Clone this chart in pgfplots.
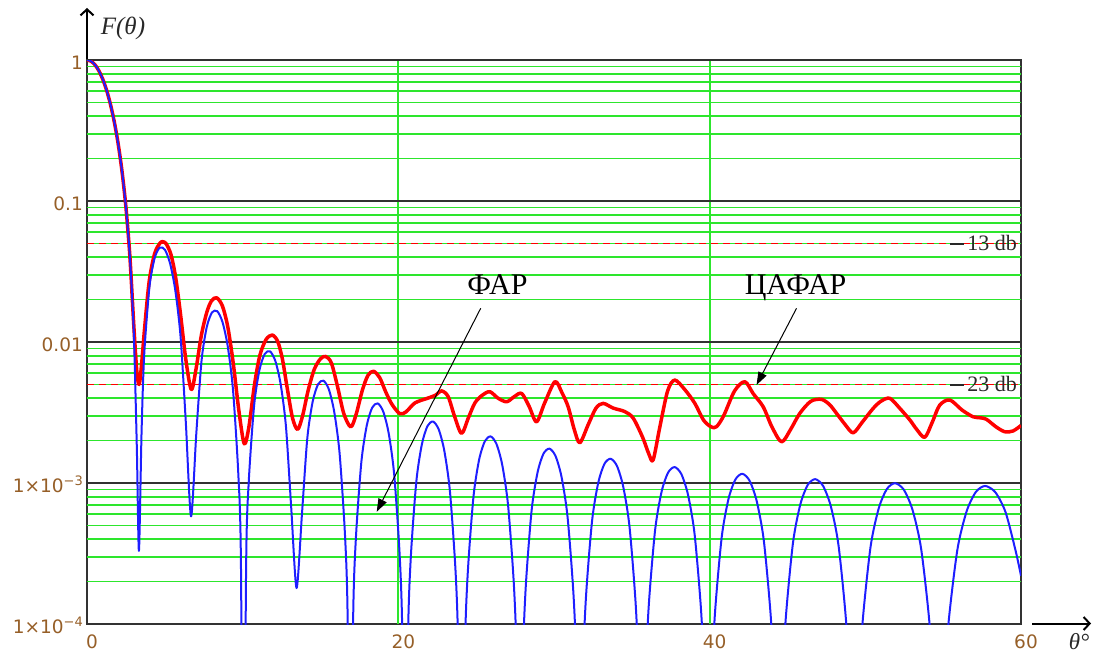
\documentclass[border=0pt]{standalone}
\usepackage{pgfplots}
\pgfplotsset{compat=1.18}
\usepackage{fontspec}
\setmainfont{Liberation Serif}
\newfontfamily\tickfont{DejaVu Sans}
\usetikzlibrary{arrows.meta}
\definecolor{gridgreen}{RGB}{45,230,45}
\definecolor{gridblack}{RGB}{50,50,50}
\definecolor{ticklab}{RGB}{150,95,40}
\definecolor{txtdark}{RGB}{40,40,40}
\definecolor{fblue}{RGB}{30,30,255}
\newcommand{\sci}[1]{1×10\raisebox{7pt}{\fontsize{13}{13}\selectfont −#1}}
\begin{document}
\begin{tikzpicture}
\useasboundingbox (-87pt,-30pt) rectangle (1007pt,624pt);
\begin{axis}[
  at={(0,0)}, anchor=south west,
  scale only axis, width=934pt, height=564pt,
  xmin=0, xmax=60, ymode=log, ymin=1e-4, ymax=1,
  xtick={0,20,40,60}, xticklabels={0,20,40,60},
  ytick={1e-4,1e-3,1e-2,1e-1,1},
  yticklabels={{\sci{4}},{\sci{3}},{0.01},{0.1},{1}},
  major tick length=0pt, minor tick length=0pt,
  axis line style={gridblack, line width=2pt},
  ticklabel style={font={\tickfont\fontsize{18.5}{18.5}\selectfont}, text=ticklab, inner sep=0pt},
  yticklabel style={anchor=base east, xshift=-4pt, yshift=-9pt},
  xticklabel style={anchor=base, xshift=5pt, yshift=-24.7pt},
]
% grid
\pgfplotsinvokeforeach{2,3,4,5,6,7,8,9}{
  \draw[gridgreen, line width=1.8pt] (axis cs:0,#1e-4) -- (axis cs:60,#1e-4);
  \draw[gridgreen, line width=1.8pt] (axis cs:0,#1e-3) -- (axis cs:60,#1e-3);
  \draw[gridgreen, line width=1.8pt] (axis cs:0,#1e-2) -- (axis cs:60,#1e-2);
  \draw[gridgreen, line width=1.8pt] (axis cs:0,#1e-1) -- (axis cs:60,#1e-1);
}
\draw[gridgreen, line width=1.8pt] (axis cs:20,1e-4) -- (axis cs:20,1);
\draw[gridgreen, line width=1.8pt] (axis cs:40,1e-4) -- (axis cs:40,1);
\draw[gridblack, line width=2pt] (axis cs:0,1e-3) -- (axis cs:60,1e-3);
\draw[gridblack, line width=2pt] (axis cs:0,1e-2) -- (axis cs:60,1e-2);
\draw[gridblack, line width=2pt] (axis cs:0,1e-1) -- (axis cs:60,1e-1);
\draw[gridblack, line width=2pt] (axis cs:0,1) -- (axis cs:60,1);
% -13 / -23 dB levels
\draw[red, line width=1.8pt, dash pattern=on 7pt off 5pt] (axis cs:0,0.05) -- (axis cs:60,0.05);
\draw[red, line width=1.8pt, dash pattern=on 7pt off 5pt] (axis cs:0,0.005) -- (axis cs:60,0.005);

% ЦАФАР
\addplot[red, line width=3.5pt, line join=round, no markers, smooth, tension=0.5] coordinates {
(0,1)(0.25,0.9817)(0.5,0.9285)(0.75,0.8443)(1,0.7365)(1.25,0.6155)(1.5,0.4886)(1.75,0.3658)(2,0.2552)(2.25,0.1621)(2.5,0.0905)(2.75,0.0412)(3.0,0.0135)(3.2,0.0062)(3.35,0.0050)(3.5,0.0068)(3.7,0.0125)(4.0,0.0272)(4.35,0.0425)(4.7,0.0505)(4.9,0.0514)(5.1,0.0495)(5.4,0.0415)(5.7,0.0285)(6.0,0.016)(6.35,0.0075)(6.7,0.0046)(7.0,0.0064)(7.35,0.0112)(7.7,0.0163)(8.0,0.0196)(8.33,0.0206)(8.7,0.0180)(9.05,0.0127)(9.4,0.0070)(9.75,0.0033)(10.1,0.0019)(10.4,0.0025)(10.75,0.0049)(11.1,0.0080)(11.5,0.0104)(11.9,0.0112)(12.25,0.0101)(12.55,0.0076)(12.85,0.0048)(13.2,0.0029)(13.53,0.0024)(13.85,0.0030)(14.2,0.0045)(14.6,0.0064)(15.0,0.0076)(15.33,0.0079)(15.7,0.0071)(16.1,0.0048)(16.5,0.0031)(16.95,0.0025)(17.3,0.0031)(17.7,0.0046)(18.05,0.0058)(18.4,0.0062)(18.8,0.0056)(19.2,0.0044)(19.6,0.0036)(20.1,0.0031)(20.5,0.0032)(21.07,0.0037)(21.9,0.0040)(22.4,0.0042)(22.78,0.0045)(23.2,0.0041)(23.6,0.0030)(24.06,0.00225)(24.5,0.0029)(24.92,0.0037)(25.4,0.0042)(25.88,0.00444)(26.4,0.0040)(26.96,0.00377)(27.45,0.0041)(27.92,0.00432)(28.4,0.0035)(28.88,0.00272)(29.4,0.0037)(30.06,0.00523)(30.5,0.0044)(30.91,0.00347)(31.3,0.0024)(31.66,0.00193)(32.2,0.0026)(32.7,0.0034)(33.16,0.00367)(33.8,0.0034)(34.55,0.00321)(35.09,0.00288)(35.7,0.0021)(36.1,0.0016)(36.37,0.00146)(36.8,0.0025)(37.3,0.0045)(37.76,0.00537)(38.4,0.0046)(39.05,0.00367)(39.6,0.0028)(40.1,0.0025)(40.44,0.00251)(40.9,0.0030)(41.6,0.0045)(42.26,0.00523)(42.8,0.0043)(43.44,0.00347)(44.0,0.0025)(44.62,0.00196)(45.2,0.0024)(45.79,0.00312)(46.5,0.0038)(47.18,0.00392)(47.7,0.0036)(48.15,0.00312)(48.7,0.0026)(49.22,0.00227)(49.8,0.0027)(50.5,0.00338)(51.0,0.0038)(51.57,0.00399)(52.2,0.0034)(52.86,0.0028)(53.3,0.0024)(53.82,0.00211)(54.3,0.0027)(54.78,0.00357)(55.43,0.00388)(56.2,0.0033)(56.92,0.00295)(57.4,0.0029)(57.78,0.00283)(58.4,0.0025)(58.96,0.00231)(59.49,0.00234)(60,0.00256)
};
% ФАР
\addplot[fblue, line width=2pt, line join=round, no markers, smooth, tension=0.45] coordinates {
(0,1)(0.25,0.9817)(0.5,0.9285)(0.75,0.8443)(1.0,0.7365)(1.25,0.6155)(1.5,0.4886)(1.75,0.3658)(2.0,0.2552)(2.25,0.1621)(2.5,0.09033)(2.75,0.04092)(3.0,0.01213)(3.2,0.0018)(3.336,3.3e-4)
(3.503,0.002249)(3.671,0.007996)(4.006,0.02431)(4.340,0.03924)(4.675,0.04676)(5.010,0.04503)(5.345,0.03580)(5.680,0.02295)(6.014,0.01080)(6.349,0.002680)(6.684,5.8e-4)
(7.021,0.002238)(7.358,0.007378)(7.695,0.012787)(8.032,0.016229)(8.370,0.016535)(8.707,0.013828)(9.044,0.009279)(9.381,0.004554)(9.718,0.001173)(9.886,0.000291)(10.055,1e-6)
(10.225,0.000277)(10.396,0.001045)(10.736,0.003549)(11.077,0.006321)(11.418,0.008229)(11.759,0.008585)(12.099,0.007340)(12.440,0.005028)(12.781,0.002516)(13.122,0.000660)(13.462,1.8e-4)
(13.808,0.0006002)(14.153,0.002083)(14.499,0.003785)(14.844,0.005017)(15.190,0.00532)(15.536,0.004616)(15.881,0.003203)(16.227,0.001622)(16.572,0.000430)(16.745,0.0001079)(16.918,1e-6)
(17.094,0.0001042)(17.270,0.0003999)(17.622,0.0014)(17.974,0.002565)(18.326,0.003433)(18.678,0.00367)(19.030,0.003212)(19.382,0.002249)(19.734,0.001148)(20.086,0.0003071)(20.262,0.0000774)(20.438,1e-6)
(20.617,7.531e-5)(20.796,2.900e-4)(21.155,1.0215e-3)(21.513,1.8843e-3)(21.872,2.5353e-3)(22.23,2.729e-3)(22.592,2.4035e-3)(22.954,1.6933e-3)(23.316,8.702e-4)(23.678,2.342e-4)(23.859,5.922e-5)(24.084,1e-6)
(24.268,5.784e-5)(24.453,2.232e-4)(24.822,7.901e-4)(25.19,1.4644e-3)(25.559,1.9796e-3)(25.928,2.141e-3)(26.302,1.8946e-3)(26.677,1.3410e-3)(27.051,6.925e-4)(27.426,1.8725e-4)(27.613,4.746e-5)(27.80,1e-6)
(27.991,4.655e-5)(28.181,1.800e-4)(28.562,6.396e-4)(28.944,1.1898e-3)(29.325,1.6146e-3)(29.706,1.753e-3)(30.095,1.5571e-3)(30.483,1.1064e-3)(30.872,5.735e-4)(31.261,1.5566e-4)(31.456,3.953e-5)(31.65,1e-6)
(31.849,3.892e-5)(32.047,1.5076e-4)(32.444,5.373e-4)(32.841,1.0028e-3)(33.238,1.3653e-3)(33.635,1.487e-3)(34.04,1.3250e-3)(34.445,9.446e-4)(34.85,4.912e-4)(35.255,1.3374e-4)(35.458,3.402e-5)(35.66,1e-6)
(35.869,3.353e-5)(36.078,1.3006e-4)(36.496,4.6486e-4)(36.914,8.6995e-4)(37.332,1.18758e-3)(37.75,1.297e-3)(38.178,1.15884e-3)(38.606,8.2836e-4)(39.034,4.3197e-4)(39.462,1.1794e-4)(39.676,3.004e-5)(39.89,1e-6)
(40.111,2.972e-5)(40.332,1.1540e-4)(40.774,4.1346e-4)(41.216,7.7560e-4)(41.658,1.06145e-3)(42.10,1.162e-3)(42.56,1.04074e-3)(43.02,7.4579e-4)(43.48,3.8982e-4)(43.94,1.0669e-4)(44.17,2.721e-5)(44.40,1e-6)
(44.638,2.697e-5)(44.876,1.0485e-4)(45.352,3.7645e-4)(45.828,7.0778e-4)(46.304,9.7062e-4)(46.78,1.065e-3)(47.28,9.5598e-4)(47.78,6.8652e-4)(48.28,3.5963e-4)(48.78,9.865e-5)(49.03,2.518e-5)(49.28,1e-6)
(49.543,2.502e-5)(49.806,9.7356e-5)(50.332,3.5027e-4)(50.858,6.5986e-4)(51.384,9.0685e-4)(51.91,9.97e-4)(52.47,8.9675e-4)(53.03,6.4531e-4)(53.59,3.3873e-4)(54.15,9.310e-5)(54.43,2.379e-5)(54.71,1e-6)
(55.009,2.371e-5)(55.308,9.235e-5)(55.906,3.3290e-4)(56.504,6.2837e-4)(57.102,8.6519e-4)(57.70,9.53e-4)(58.356,8.5881e-4)(59.012,6.1920e-4)(59.668,3.2563e-4)(60,2.2e-4)
};

% level labels
\node[anchor=base east, inner sep=0pt, text=txtdark, font=\fontsize{22}{22}\selectfont, xshift=-4pt, yshift=-7.5pt] at (axis cs:60,0.05) {\rule[0.28em]{14pt}{1.6pt}\hspace{3pt}13 db};
\node[anchor=base east, inner sep=0pt, text=txtdark, font=\fontsize{22}{22}\selectfont, xshift=-4pt, yshift=-7.5pt] at (axis cs:60,0.005) {\rule[0.28em]{14pt}{1.6pt}\hspace{3pt}23 db};

% annotations
\node[anchor=base, inner sep=0pt, font=\fontsize{30}{30}\selectfont] at (axis cs:26.36,0.02155) {ФАР};
\node[anchor=base, inner sep=0pt, font=\fontsize{30}{30}\selectfont] at (axis cs:45.52,0.02155) {ЦАФАР};
\draw[black, line width=1pt, -{Triangle[length=13pt,width=9pt]}] (axis cs:25.29,0.01734) -- (axis cs:18.61,6.25e-4);
\draw[black, line width=1pt, -{Triangle[length=13pt,width=9pt]}] (axis cs:45.58,0.01734) -- (axis cs:43.01,0.004955);
\end{axis}
% axis arrows and labels
\draw[black, line width=2pt, -{Straight Barb[length=6pt,width=13pt]}] (0,565pt) -- (0,616pt);
\node[font=\fontsize{25}{25}\selectfont\itshape, text=txtdark, inner sep=0pt] at (36pt,596pt) {F(θ)};
\draw[black, line width=2pt, -{Straight Barb[length=6pt,width=13pt]}] (945pt,0.5pt) -- (1004pt,0.5pt);
\node[font=\fontsize{23}{23}\selectfont\itshape, text=txtdark, inner sep=0pt, anchor=base] at (992pt,-25pt) {θ°};
\end{tikzpicture}
\end{document}
